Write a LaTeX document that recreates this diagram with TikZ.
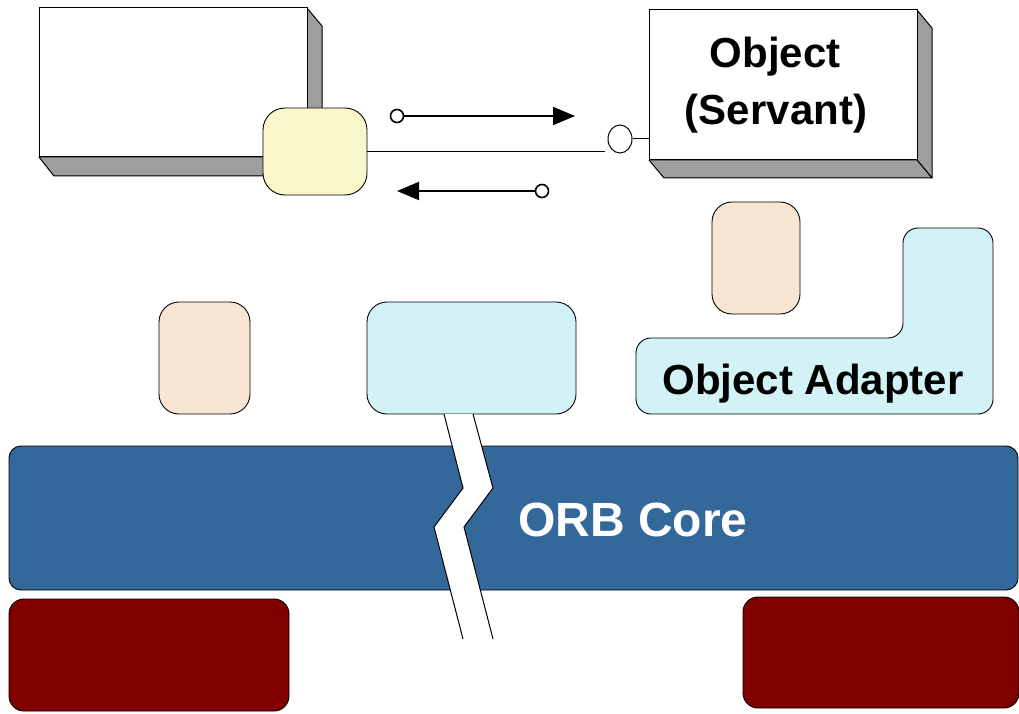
\documentclass[tikz,border=0pt]{standalone}
\usepackage{fontspec}
\setmainfont{Liberation Sans}
\usetikzlibrary{shapes.geometric,arrows.meta}
\definecolor{stubyel}{HTML}{F8F8CA}
\definecolor{beige}{HTML}{F8E6D3}
\definecolor{lcyan}{HTML}{D2F2F5}
\definecolor{orbblue}{HTML}{35689A}
\definecolor{dred}{HTML}{800000}
\definecolor{sidegray}{HTML}{9E9E9E}
\tikzset{
  face/.style={draw=black, line width=1pt, fill=white, inner sep=0pt},
  side/.style={draw=black, line width=1pt, fill=sidegray, line join=round},
  rbox/.style={draw=black, line width=0.9pt, inner sep=0pt},
  lab/.style={inner sep=0pt, font=\fontsize{42}{50}\selectfont\bfseries},
  biglab/.style={inner sep=0pt, text=white, font=\fontsize{48}{56}\selectfont\bfseries},
  tinyc/.style={circle, draw=black, line width=1.6pt, fill=white, minimum size=13pt, inner sep=0pt},
  arr/.style={line width=2pt, -{Triangle[length=22pt,width=18pt]}},
  thin/.style={line width=1pt},
  crackline/.style={line width=1pt, draw=black},
}
\begin{document}
\begin{tikzpicture}[x=1pt,y=-1pt]
\useasboundingbox (0,0) rectangle (1019,714);
% client 3D box
\draw[side] (307,8) -- (322,26) -- (322,176) -- (307,157) -- cycle;
\draw[side] (39,157) -- (54,176) -- (322,176) -- (307,157) -- cycle;
\node[face, minimum width=268pt, minimum height=149pt] (client) at (173,82.5) {};
% stub
\node[rbox, fill=stubyel, rounded corners=22pt, minimum width=104pt, minimum height=87pt] (stub) at (315,151.5) {};
% servant 3D box
\draw[side] (917,10) -- (932,28) -- (932,178) -- (917,160) -- cycle;
\draw[side] (649,160) -- (664,178) -- (932,178) -- (917,160) -- cycle;
\node[face, minimum width=268pt, minimum height=150pt] (servant) at (783,85) {};
\node[lab, anchor=base] (objtxt) at (775,68) {Object};
\node[lab, anchor=base] (servtxt) at (776,125) {(Servant)};
% skeleton circle
\node[ellipse, draw=black, thin, fill=white, minimum width=24pt, minimum height=28pt, inner sep=0pt] (skel) at (620,139) {};
\coordinate (lineend) at (605,151.5);
\draw[thin] (stub.east) -- (lineend);
\draw[thin] (skel.east) -- (skel.east -| servant.west);
% request / reply arrows
\node[tinyc] (reqc) at (397,116) {};
\coordinate (reqtip) at (575,116);
\draw[arr] (reqc) -- (reqtip);
\node[tinyc] (repc) at (542,191) {};
\coordinate (reptip) at (397,191);
\draw[arr] (repc) -- (reptip);
% beige boxes
\node[rbox, fill=beige, rounded corners=20pt, minimum width=88pt, minimum height=112pt] (beigeR) at (756,258) {};
\node[rbox, fill=beige, rounded corners=20pt, minimum width=91pt, minimum height=112pt] (beigeL) at (204.5,358) {};
% cyan box
\node[rbox, fill=lcyan, rounded corners=20pt, minimum width=209pt, minimum height=112pt] (cyanbox) at (471.5,358) {};
% object adapter
\draw[rbox, fill=lcyan, rounded corners=15pt] (636,338) -- (903,338) -- (903,228) -- (993,228) -- (993,414) -- (636,414) -- cycle;
\node[lab, anchor=base] (oatxt) at (813,394) {Object Adapter};
% ORB core
\node[rbox, fill=orbblue, rounded corners=12pt, minimum width=1009pt, minimum height=144pt] (orb) at (513.5,518) {};
\node[biglab, anchor=base] (orbtxt) at (633,536) {ORB Core};
% crack
\fill[white] (444,414) -- (463,488) -- (434,527) -- (463,639) -- (493,639) -- (464,527) -- (493,488) -- (473,414) -- cycle;
\draw[crackline] (444,414) -- (463,488) -- (434,527) -- (463,639);
\draw[crackline] (473,414) -- (493,488) -- (464,527) -- (493,639);
% dark red boxes
\node[rbox, fill=dred, rounded corners=15pt, minimum width=280pt, minimum height=112pt] (redL) at (149,655) {};
\node[rbox, fill=dred, rounded corners=15pt, minimum width=276pt, minimum height=111pt] (redR) at (881,652.5) {};
\end{tikzpicture}
\end{document}
